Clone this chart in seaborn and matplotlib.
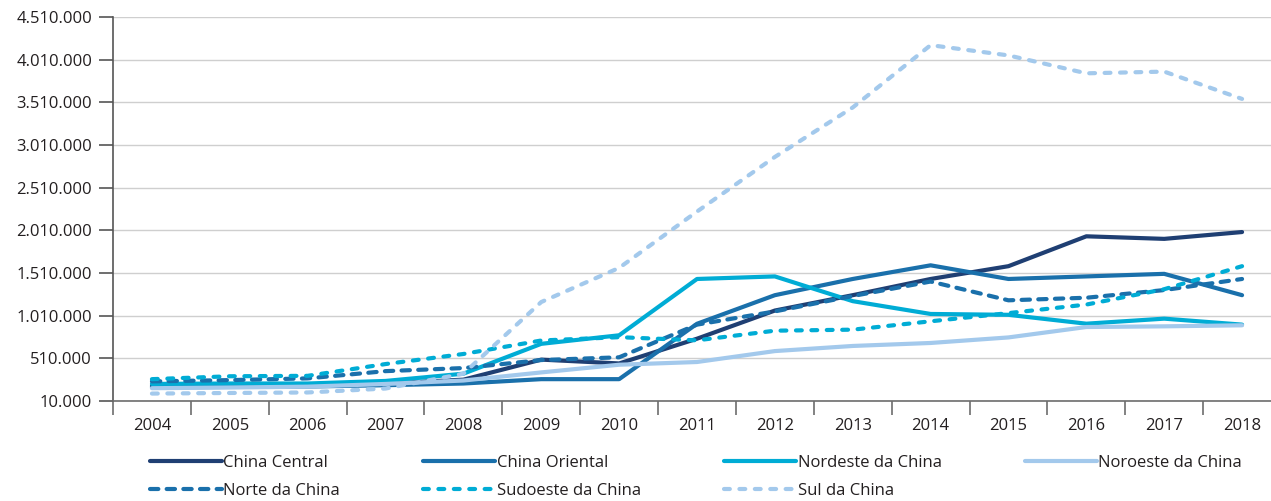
import matplotlib
matplotlib.use("Agg")
import matplotlib.pyplot as plt
from matplotlib.ticker import FixedLocator, FuncFormatter
import pandas as pd
import seaborn as sns

years = list(range(2004, 2019))
regions = [
    "China Central",
    "China Oriental",
    "Nordeste da China",
    "Noroeste da China",
    "Norte da China",
    "Sudoeste da China",
    "Sul da China",
]

china_central = [185e3, 190e3, 195e3, 215e3, 260e3, 495e3, 450e3, 740e3, 1.07e6,
                 1.25e6, 1.44e6, 1.59e6, 1.94e6, 1.91e6, 1.99e6]
china_oriental = [170e3, 175e3, 180e3, 195e3, 215e3, 266e3, 266e3, 915e3, 1.25e6,
                  1.44e6, 1.60e6, 1.44e6, 1.47e6, 1.50e6, 1.25e6]
nordeste = [210e3, 215e3, 215e3, 245e3, 330e3, 680e3, 780e3, 1.44e6, 1.47e6,
            1.18e6, 1.03e6, 1.02e6, 916e3, 975e3, 905e3]
noroeste = [160e3, 168e3, 178e3, 210e3, 250e3, 345e3, 435e3, 467e3, 595e3,
            655e3, 690e3, 755e3, 877e3, 885e3, 897e3]
norte = [240e3, 255e3, 275e3, 360e3, 396e3, 490e3, 522e3, 905e3, 1.06e6,
         1.24e6, 1.41e6, 1.19e6, 1.22e6, 1.31e6, 1.44e6]
sudoeste = [266e3, 300e3, 305e3, 443e3, 561e3, 719e3, 758e3, 721e3, 834e3,
            846e3, 944e3, 1.04e6, 1.14e6, 1.32e6, 1.59e6]
sul = [97e3, 104e3, 110e3, 156e3, 330e3, 1.17e6, 1.57e6, 2.23e6, 2.87e6,
       3.45e6, 4.18e6, 4.06e6, 3.85e6, 3.87e6, 3.55e6]

series = [china_central, china_oriental, nordeste, noroeste, norte, sudoeste, sul]

palette = {
    "China Central": "#1f3f73",
    "China Oriental": "#1a70ab",
    "Nordeste da China": "#00acd5",
    "Noroeste da China": "#a3c9ec",
    "Norte da China": "#1a70ab",
    "Sudoeste da China": "#00acd5",
    "Sul da China": "#a3c9ec",
}
dashes = {
    "China Central": "",
    "China Oriental": "",
    "Nordeste da China": "",
    "Noroeste da China": "",
    "Norte da China": (2.0, 2.0),
    "Sudoeste da China": (1.4, 2.3),
    "Sul da China": (1.4, 2.3),
}

frame = pd.DataFrame(
    [(r, y, v) for r, vals in zip(regions, series) for y, v in zip(years, vals)],
    columns=["region", "year", "value"],
)

sns.set_style("white")
plt.rcParams["font.family"] = ["Open Sans", "DejaVu Sans"]
text_color = "#231f20"

fig = plt.figure(figsize=(12.71, 5.01), dpi=100)
ax = fig.add_axes([113 / 1271, 1 - 401 / 501, 1168 / 1271, 384 / 501])

sns.lineplot(
    data=frame, x="year", y="value", hue="region", style="region",
    hue_order=regions, style_order=regions, palette=palette, dashes=dashes,
    linewidth=3, dash_capstyle="round", solid_capstyle="round",
    solid_joinstyle="round", dash_joinstyle="round", legend=False, ax=ax,
)

ax.set_xlim(2003.5, 2018.5)
ax.set_ylim(10000, 4510000)
ax.set_xlabel("")
ax.set_ylabel("")

yticks = list(range(10000, 4510001, 500000))
ax.set_yticks(yticks)
ax.yaxis.set_major_formatter(FuncFormatter(lambda v, _: f"{int(round(v)):,}".replace(",", ".")))
ax.yaxis.grid(True, color="#cfcfcf", linewidth=1.0)
ax.set_axisbelow(True)

ax.set_xticks(years)
ax.set_xticklabels([str(y) for y in years])
ax.xaxis.set_minor_locator(FixedLocator([y - 0.5 for y in years]))
ax.tick_params(axis="x", which="major", length=0, pad=12, labelsize=12, labelcolor=text_color)
ax.tick_params(axis="x", which="minor", length=10, width=1.2, color="#6d6d6d", bottom=True)
ax.tick_params(axis="y", length=10, width=1.2, color="#555555", pad=5, labelsize=12,
               labelcolor=text_color, left=True)

for side in ["top", "right"]:
    ax.spines[side].set_visible(False)
ax.spines["left"].set_color("#555555")
ax.spines["left"].set_linewidth(1.2)
ax.spines["bottom"].set_color("#6d6d6d")
ax.spines["bottom"].set_linewidth(1.2)

handles = dict(zip(regions, ax.get_lines()[: len(regions)]))
order = ["China Central", "Norte da China", "China Oriental", "Sudoeste da China",
         "Nordeste da China", "Sul da China", "Noroeste da China"]
fig.legend(
    [handles[r] for r in order], order, ncol=4, loc="upper left",
    bbox_to_anchor=(150 / 1271, 1 - 455 / 501), frameon=False, fontsize=12,
    handlelength=4.3, handletextpad=0.1, columnspacing=5.0, labelspacing=0.7,
    labelcolor=text_color, borderpad=0, borderaxespad=0,
)

fig.savefig("out.png", dpi=100)
